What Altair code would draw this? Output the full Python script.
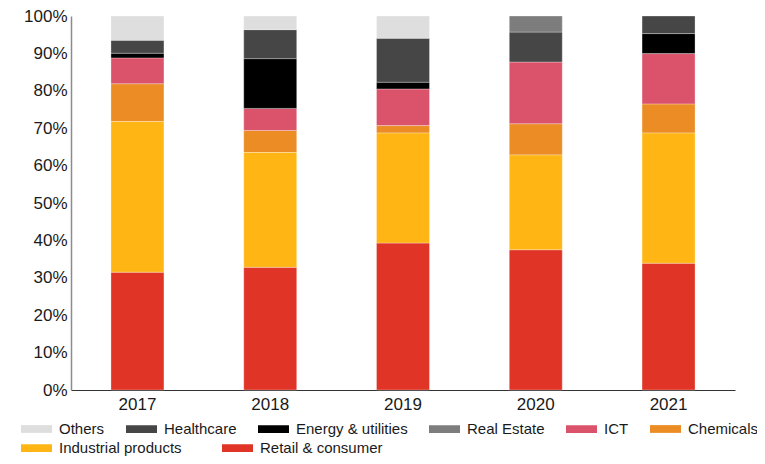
import altair as alt
import pandas as pd

years = ["2017", "2018", "2019", "2020", "2021"]

# legend rows (as in the reference)
legend_row1 = ["Others", "Healthcare", "Energy & utilities", "Real Estate",
               "ICT", "Chemicals"]
colors_row1 = ["#dedede", "#464646", "#000000", "#7d7d7d", "#db536a", "#eb8c24"]
legend_row2 = ["Industrial products", "Retail & consumer"]
colors_row2 = ["#ffb615", "#e03526"]

# stacking order, bottom to top
stack_order = ["Retail & consumer", "Industrial products", "Chemicals", "ICT",
               "Energy & utilities", "Healthcare", "Real Estate", "Others"]

# shares in percent per year (2017..2021)
retail = [31.5, 32.8, 39.3, 37.5, 33.9]
industrial = [40.3, 30.7, 29.4, 25.35, 34.8]
chemicals = [10.1, 5.9, 2.0, 8.35, 7.8]
ict = [6.9, 5.9, 9.8, 16.5, 13.45]
energy = [1.25, 13.3, 1.8, 0.0, 5.35]
healthcare = [3.45, 7.75, 11.75, 8.0, 4.7]
real_estate = [0.0, 0.0, 0.0, 4.3, 0.0]
others = [6.5, 3.65, 5.95, 0.0, 0.0]

series = {
    "Retail & consumer": retail,
    "Industrial products": industrial,
    "Chemicals": chemicals,
    "ICT": ict,
    "Energy & utilities": energy,
    "Healthcare": healthcare,
    "Real Estate": real_estate,
    "Others": others,
}

rows = []
for cat, vals in series.items():
    for y, v in zip(years, vals):
        if v > 0:
            rows.append({"year": y, "sector": cat, "share": v / 100.0,
                         "ord": stack_order.index(cat)})
df = pd.DataFrame(rows)

FONT = "Liberation Sans"

x_enc = alt.X("year:N", sort=years,
              scale=alt.Scale(paddingInner=0.601, paddingOuter=0.301),
              axis=alt.Axis(title=None, labelAngle=0, ticks=False,
                            labelFontSize=17, labelPadding=6,
                            domainColor="#333333", domainWidth=1.2))
y_enc = alt.Y("y0:Q",
              scale=alt.Scale(domain=[0, 1], nice=False),
              axis=alt.Axis(title=None, format=".0%",
                            values=[i / 10 for i in range(11)],
                            ticks=False, grid=False, labelFontSize=17,
                            labelPadding=4, domainColor="#8c8c8c",
                            domainWidth=1.5))


def legend_for(ly, col_pad):
    return alt.Legend(
        title=None, orient="none", legendX=-50, legendY=ly,
        direction="horizontal", columns=10,
        symbolType="M-1,-0.25H1V0.25H-1Z", symbolSize=961,
        symbolStrokeWidth=0, symbolOpacity=1,
        labelFontSize=15, labelOffset=7, columnPadding=col_pad,
        clipHeight=16, labelLimit=300)


base = alt.Chart(df).transform_stack(
    stack="share", groupby=["year"], as_=["y0", "y1"],
    sort=[alt.SortField("ord", order="ascending")],
)

bars_mark = dict(stroke="white", strokeWidth=0.5, strokeOpacity=0.6)

layer1 = base.transform_filter(
    alt.FieldOneOfPredicate(field="sector", oneOf=legend_row1)
).mark_bar(**bars_mark).encode(
    x=x_enc, y=y_enc, y2="y1:Q",
    color=alt.Color("sector:N",
                    scale=alt.Scale(domain=legend_row1, range=colors_row1),
                    legend=legend_for(405, 21)),
)

layer2 = base.transform_filter(
    alt.FieldOneOfPredicate(field="sector", oneOf=legend_row2)
).mark_bar(**bars_mark).encode(
    x=x_enc, y=y_enc, y2="y1:Q",
    color=alt.Color("sector:N",
                    scale=alt.Scale(domain=legend_row2, range=colors_row2),
                    legend=legend_for(424, 40)),
)

chart = alt.layer(layer1, layer2).resolve_scale(
    color="independent"
).properties(
    width=664, height=374,
    autosize=alt.AutoSizeParams(type="none"),
    padding={"left": 63, "top": 8, "right": 22, "bottom": 66},
).configure(
    font=FONT,
).configure_axis(
    labelFont=FONT, labelColor="#1a1a1a",
).configure_legend(
    labelFont=FONT, labelColor="#1a1a1a",
).configure_view(
    stroke=None,
)

chart.save("out.html", embed_options={"renderer": "svg", "actions": False})
